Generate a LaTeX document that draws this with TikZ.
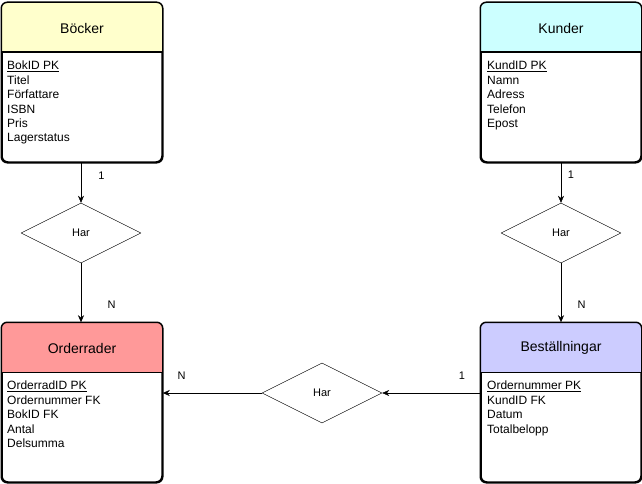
\documentclass[tikz,border=0pt]{standalone}
\usepackage{fontspec}
\setmainfont{Liberation Sans}
\usetikzlibrary{shapes.geometric,arrows.meta}
\definecolor{bokgul}{RGB}{255,255,204}
\definecolor{kundcyan}{RGB}{204,255,255}
\definecolor{orderrod}{RGB}{255,153,153}
\definecolor{bestlila}{RGB}{204,204,255}
\begin{document}
\begin{tikzpicture}[x=1pt, y=-1pt, line join=round, >={Stealth[length=7pt,width=6pt]}]

		\tikzset{entity/.style={draw, line width=1.5pt, rounded corners=6pt, minimum width=160pt, minimum height=159pt, inner sep=0pt},
			rubrik/.style={font=\fontsize{14}{16}\selectfont},
			attr/.style={anchor=north west, align=left, inner sep=0pt, font=\fontsize{12}{14.4}\selectfont},
			relation/.style={draw, diamond, aspect=2, minimum width=120pt, minimum height=60pt, inner sep=0pt, font=\fontsize{11}{13}\selectfont},
			kard/.style={font=\fontsize{11}{13}\selectfont}}

		\useasboundingbox (0,0) rectangle (642,484);

		% entiteter
		\node[entity] (bocker) at (82,82.5) {};
		\node[entity] (kunder) at (561,82.5) {};
		\node[entity] (orderrader) at (82,402.5) {};
		\node[entity] (bestallningar) at (561,402.5) {};
		\foreach \e/\c in {bocker/bokgul, kunder/kundcyan, orderrader/orderrod, bestallningar/bestlila}
		{
		\begin{scope}
		\clip[rounded corners=6pt] (\e.north west) rectangle (\e.south east);
		\fill[\c] (\e.north west) rectangle ([yshift=-50pt]\e.north east);
		\end{scope}
		\draw[line width=1.5pt, rounded corners=6pt] (\e.north west) rectangle (\e.south east);
		\draw[line width=1.5pt] ([yshift=-50pt]\e.north west) -- ([yshift=-50pt]\e.north east);
		}

		\node[rubrik] (bockert) at (82,28) {Böcker};
		\node[rubrik] (kundert) at (561,28) {Kunder};
		\node[rubrik] (orderradert) at (82,348) {Orderrader};
		\node[rubrik] (bestallningart) at (561,348) {Beställningar};

		\node[attr] (bockera) at (7,61) {\underline{BokID PK}\\Titel\\Författare\\ISBN\\Pris\\Lagerstatus};
		\node[attr] (kundera) at (487,61) {\underline{KundID PK}\\Namn\\Adress\\Telefon\\Epost};
		\node[attr] (orderradera) at (7,381) {\underline{OrderradID PK}\\Ordernummer FK\\BokID FK\\Antal\\Delsumma};
		\node[attr] (bestallningara) at (487,381) {\underline{Ordernummer PK}\\KundID FK\\Datum\\Totalbelopp};

		% relationer
		\node[relation] (har1) at (81,233) {Har};
		\node[relation] (har2) at (561,233) {Har};
		\node[relation] (har3) at (322,393) {Har};

		\draw[->] (har1.north |- bocker.south) -- (har1.north);
		\draw[->] (har1.south) -- (har1.south |- orderrader.north);
		\draw[->] (har2.north |- kunder.south) -- (har2.north);
		\draw[->] (har2.south) -- (har2.south |- bestallningar.north);
		\draw[->] (bestallningar.west |- har3.east) -- (har3.east);
		\draw[->] (har3.west) -- (orderrader.east |- har3.west);

		\node[kard] (k1) at (101.5,176) {1};
		\node[kard] (k2) at (111.5,305) {N};
		\node[kard] (k3) at (571,175) {1};
		\node[kard] (k4) at (581.5,305) {N};
		\node[kard] (k5) at (462,376) {1};
		\node[kard] (k6) at (181.5,376) {N};
		\end{tikzpicture}
\end{document}
